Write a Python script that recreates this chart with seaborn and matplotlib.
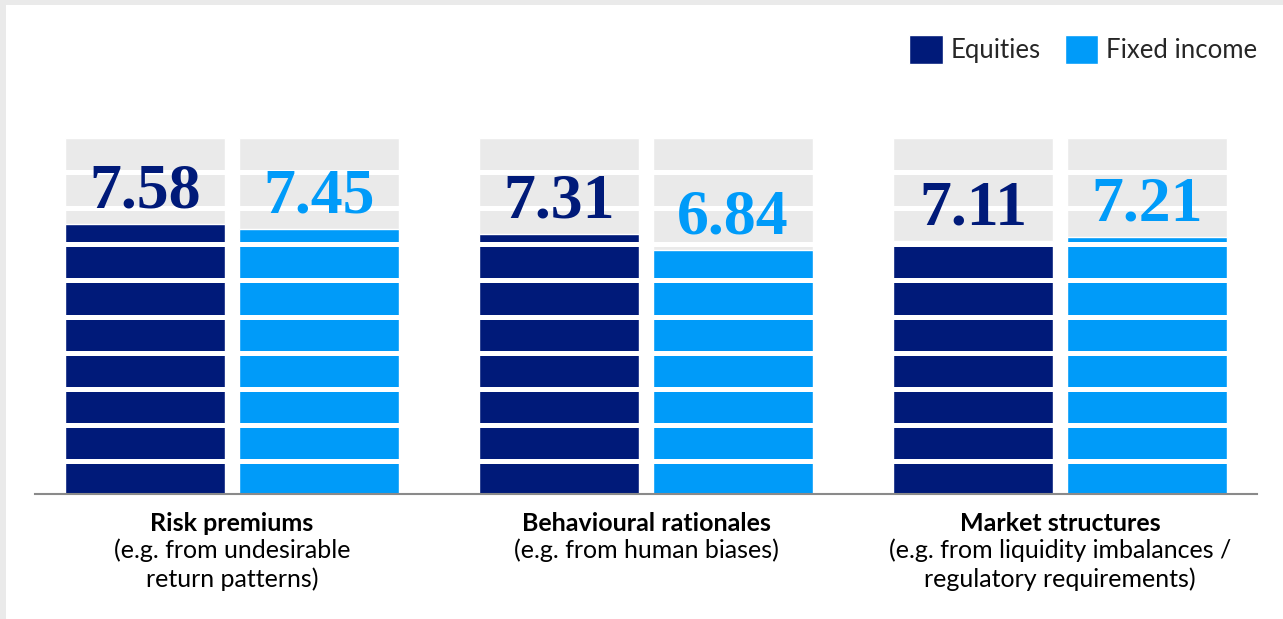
import numpy as np
import pandas as pd
import matplotlib
matplotlib.use("Agg")
import matplotlib.pyplot as plt
from matplotlib.patches import Patch, Rectangle
import seaborn as sns

# data
categories = ["Risk premiums", "Behavioural rationales", "Market structures"]
subtitles = ["(e.g. from undesirable\nreturn patterns)",
             "(e.g. from human biases)",
             "(e.g. from liquidity imbalances /\nregulatory requirements)"]
series = ["Equities", "Fixed income"]
equities = [7.58, 7.31, 7.11]
fixed_income = [7.45, 6.84, 7.21]
scale_max = 10

navy = "#001A79"
blue = "#009BF9"
grey = "#EAEAEA"

sns.set_theme(style="white")
plt.rcParams["font.family"] = ["Lato", "DejaVu Sans"]

df = pd.DataFrame({
    "category": categories * 2,
    "series": [series[0]] * 3 + [series[1]] * 3,
    "value": equities + fixed_income,
})
df["full"] = scale_max

fig = plt.figure(figsize=(12.83, 6.19), dpi=100)
fig.patch.set_facecolor(grey)
fig.patches.append(Rectangle((6 / 1283, 0), 1, 1 - 5 / 619, transform=fig.transFigure,
                             facecolor="white", edgecolor="none", zorder=-10))

ax = fig.add_axes([35 / 1283, 1 - 494 / 619, (1257 - 35) / 1283, (494 - 138) / 619])
ax.set_facecolor("none")

# grey track behind each bar
sns.barplot(data=df, x="category", y="full", hue="series", palette=[grey, grey],
            width=0.84, gap=0.08, legend=False, ax=ax, saturation=1)
sns.barplot(data=df, x="category", y="value", hue="series", palette=[navy, blue],
            width=0.84, gap=0.08, legend=False, ax=ax, saturation=1)

ax.set_xlim(-0.476, 2.476)
ax.set_ylim(0, scale_max)

# white cuts to make the segmented look
for yy in np.linspace(0.92, 9.05, 9):
    ax.axhline(yy, color="white", lw=3.6, zorder=5)

# value labels
for cont, col in zip(ax.containers[-2:], [navy, blue]):
    for bar in cont:
        x = bar.get_x() + bar.get_width() / 2
        h = bar.get_height()
        ax.annotate(f"{h:.2f}", (x, h), xytext=(0, 12), textcoords="offset points",
                    ha="center", va="baseline", fontsize=46, fontweight="bold",
                    family="Liberation Serif", color=col, zorder=6)

# category labels
ax.set_xticks(range(len(categories)))
ax.set_xticklabels([])
ax.tick_params(length=0)
ax.set_xlabel("")
ax.set_ylabel("")
ax.set_yticks([])
for i, (c, s) in enumerate(zip(categories, subtitles)):
    ax.annotate(c, (i, 0), xycoords="data", xytext=(0, -21.5), textcoords="offset points",
                ha="center", va="center", fontsize=18, fontweight="bold", color="black")
    ax.annotate(s, (i, 0), xycoords="data", xytext=(0, -32), textcoords="offset points",
                ha="center", va="top", fontsize=18, color="black", linespacing=1.25)

for side in ["top", "left", "right"]:
    ax.spines[side].set_visible(False)
ax.spines["bottom"].set_color("#8A8A8A")
ax.spines["bottom"].set_linewidth(1.5)
ax.spines["bottom"].set_zorder(7)

handles = [Patch(facecolor=navy, label=series[0]), Patch(facecolor=blue, label=series[1])]
fig.legend(handles=handles, loc="center right", bbox_to_anchor=(1257 / 1283, 1 - 49.5 / 619),
           frameon=False, fontsize=18.5, ncol=2, handlelength=1.3, handleheight=1.3,
           handletextpad=0.3, columnspacing=0.95, borderpad=0, borderaxespad=0)

fig.savefig("out.png", dpi=100, facecolor=fig.get_facecolor())
